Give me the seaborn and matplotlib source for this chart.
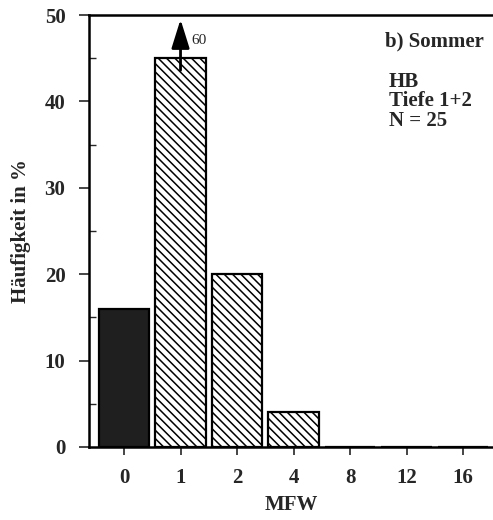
import matplotlib
matplotlib.use("Agg")
import matplotlib.pyplot as plt
from matplotlib.ticker import MultipleLocator
import seaborn as sns
import pandas as pd

# MFW classes and relative frequency (%) for HB, Tiefe 1+2, summer (N = 25)
mfw_classes = ["0", "1", "2", "4", "8", "12", "16"]
frequency_pct = [16, 60, 20, 4, 0, 0, 0]
y_tick_labels = ["0", "10", "20", "30", "40", "50"]

Y_MAX = 50
BAR_CAP = 45  # bars above this are cut off and marked with an arrow

df = pd.DataFrame({"MFW": mfw_classes, "pct": frequency_pct})
df["drawn"] = df["pct"].clip(upper=BAR_CAP)

sns.set_style("white")
plt.rcParams["font.family"] = ["Liberation Serif", "DejaVu Serif"]
plt.rcParams["font.weight"] = "bold"
plt.rcParams["hatch.linewidth"] = 1.1

fig = plt.figure(figsize=(4.93, 5.2), dpi=100)
ax = fig.add_axes([0.1805, 0.1404, 0.8195, 0.8306])

sns.barplot(data=df, x="MFW", y="drawn", order=mfw_classes, ax=ax,
            color="white", edgecolor="black", linewidth=1.6, width=0.89,
            saturation=1)

for i, patch in enumerate(ax.patches):
    if i == 0:
        patch.set_facecolor("#1f1f1f")
    elif df["pct"].iloc[i] > 0:
        patch.set_hatch("\\" * 4)

# Arrow and true value for the cut-off bar
for i, (val, drawn) in enumerate(zip(df["pct"], df["drawn"])):
    if val > drawn:
        ax.annotate("", xy=(i, 49.5), xytext=(i, 43.6),
                    arrowprops=dict(arrowstyle="-|>,head_length=0.8,head_width=0.25",
                                    lw=2.0, color="black", mutation_scale=22,
                                    shrinkA=0, shrinkB=0))
        ax.text(i + 0.19, 47.1, f"{val}", fontsize=11, fontweight="normal",
                ha="left", va="center")

ax.set_xlim(-0.62, 6.53)
ax.set_ylim(0, Y_MAX)
ax.set_yticks(range(0, Y_MAX + 1, 10))
ax.set_yticklabels(y_tick_labels)
ax.yaxis.set_minor_locator(MultipleLocator(5))

ax.tick_params(axis="y", which="major", direction="out", length=7, width=1.2,
               pad=10, labelsize=15, left=True)
ax.tick_params(axis="y", which="minor", direction="in", length=5, width=1.0,
               left=True)
ax.tick_params(axis="x", which="major", direction="out", length=6, width=1.2,
               pad=9, labelsize=15, bottom=True)

for side in ("left", "bottom", "top"):
    ax.spines[side].set_linewidth(1.8)
    ax.spines[side].set_color("black")
ax.spines["right"].set_visible(False)

ax.set_xlabel("MFW", fontsize=15, fontweight="bold", labelpad=5)
ax.set_ylabel("Häufigkeit in %", fontsize=15, fontweight="bold", labelpad=10)

ax.text(0.733, 0.962, "b) Sommer", transform=ax.transAxes, fontsize=15,
        fontweight="bold", ha="left", va="top")
ax.text(0.742, 0.868, "HB\nTiefe 1+2\nN = 25", transform=ax.transAxes,
        fontsize=15, fontweight="bold", ha="left", va="top", linespacing=0.95)

fig.savefig("out.png", dpi=100)
